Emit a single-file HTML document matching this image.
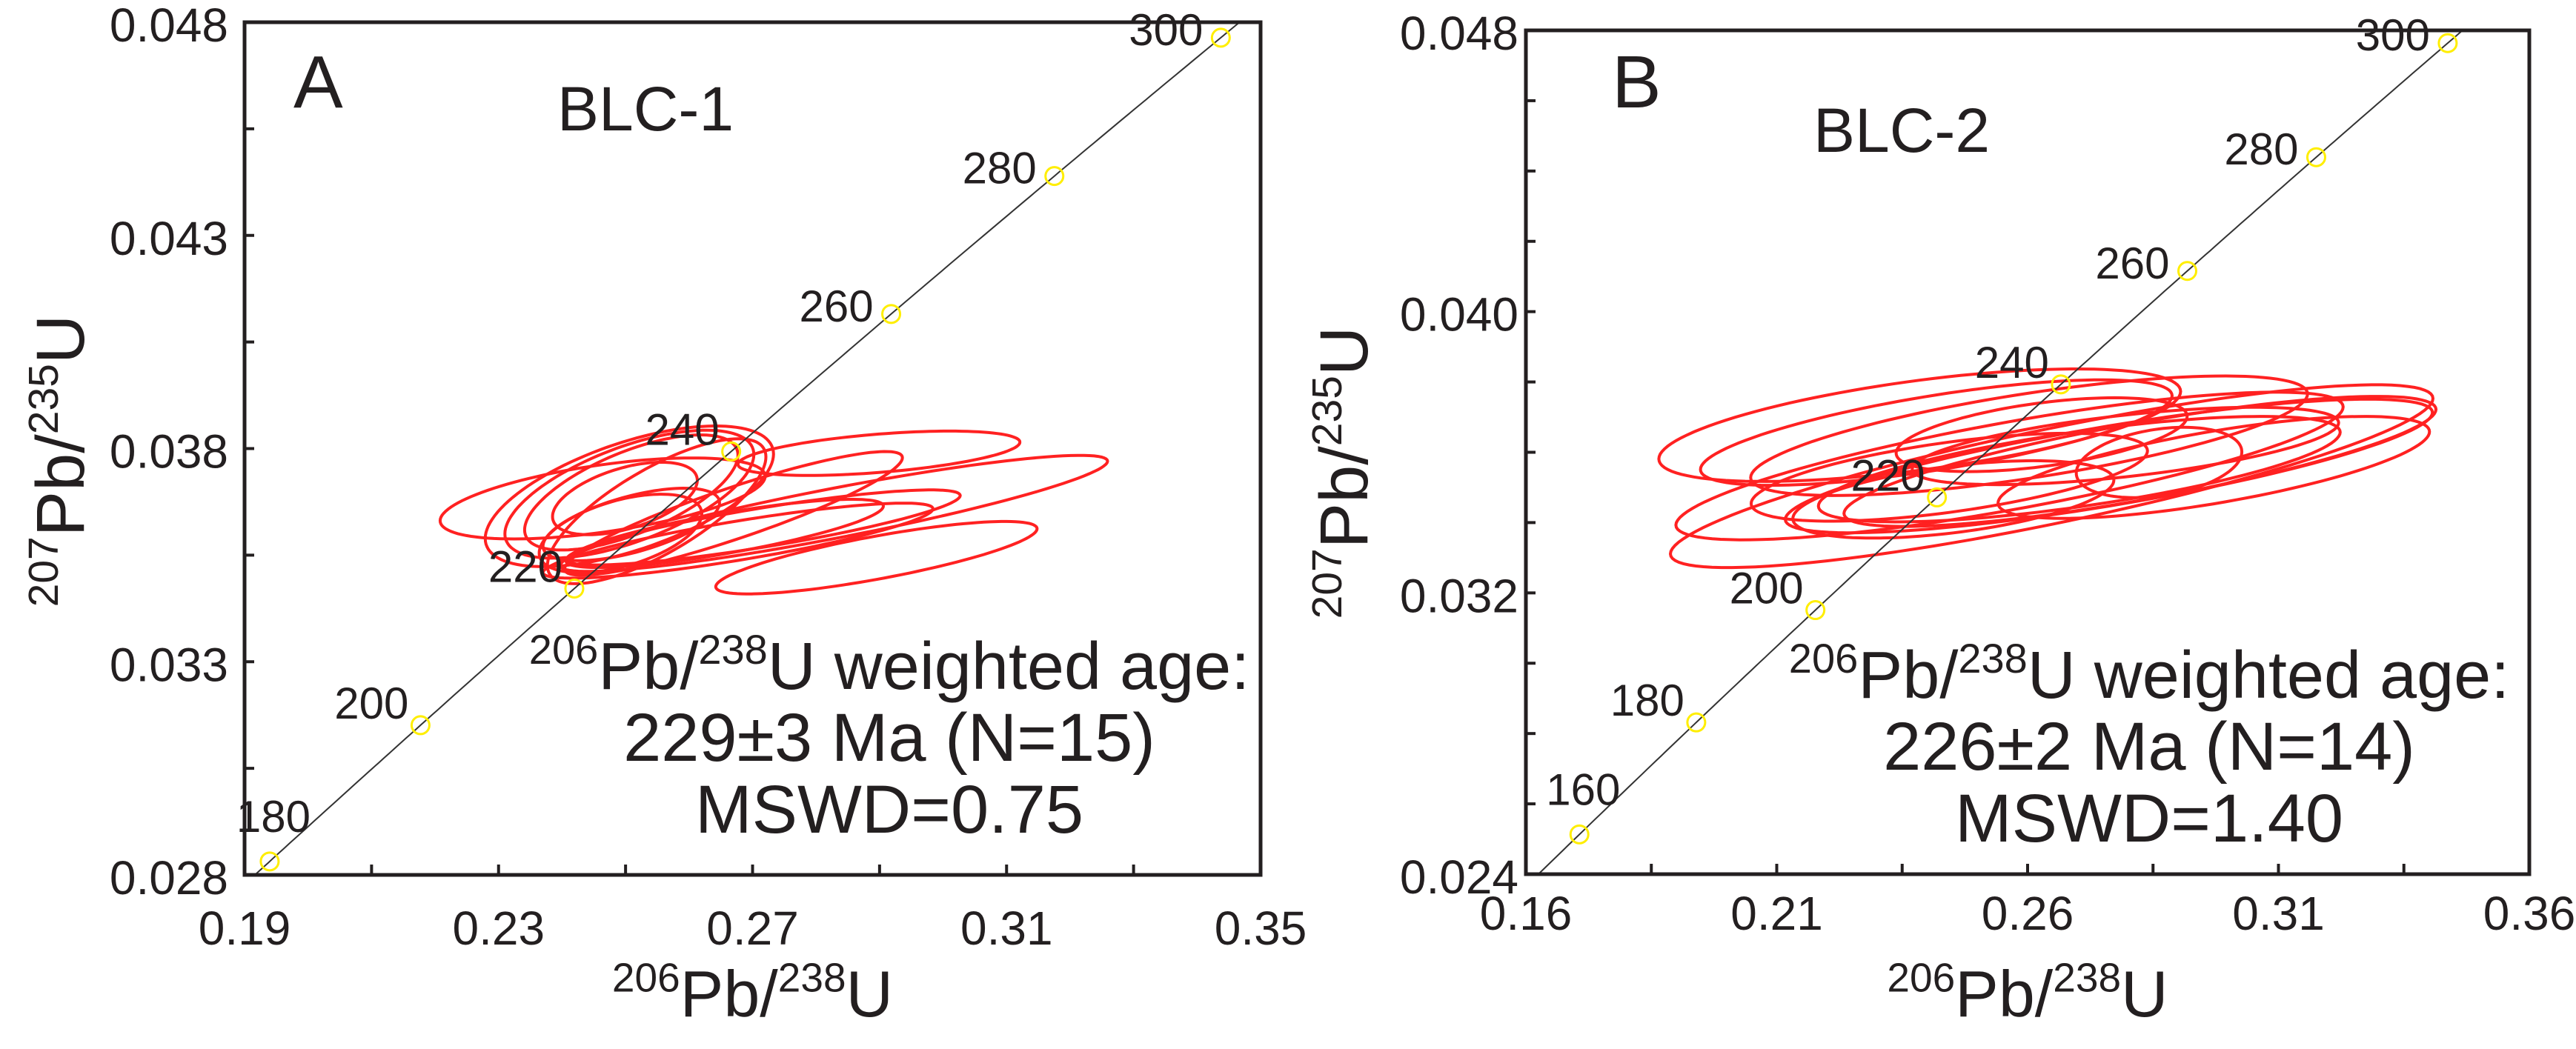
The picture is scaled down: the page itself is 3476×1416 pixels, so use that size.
<!DOCTYPE html>
<html>
<head>
<meta charset="utf-8">
<style>
html,body{margin:0;padding:0;background:#fff;}
svg{display:block;}
text{font-family:"Liberation Sans",Arial,sans-serif;fill:#231f20;}
</style>
</head>
<body>
<svg id="fig" width="3476" height="1416" viewBox="0 0 3476 1416" xmlns="http://www.w3.org/2000/svg">
  <rect x="0" y="0" width="3476" height="1416" fill="#fff"/>
</svg>
<script>
// ---------- Panel A data ----------
const xTicksA = [0.19, 0.23, 0.27, 0.31, 0.35];
const xTickLabelsA = ["0.19", "0.23", "0.27", "0.31", "0.35"];
const yTicksA = [0.028, 0.033, 0.038, 0.043, 0.048];
const yTickLabelsA = ["0.028", "0.033", "0.038", "0.043", "0.048"];
const agesA = [180, 200, 220, 240, 260, 280, 300];
const ellCxA = [0.2828, 0.2899, 0.2895, 0.2717, 0.2677, 0.2670, 0.2464, 0.2506, 0.2506, 0.2509, 0.2499, 0.2509, 0.2492, 0.2656, 0.2549];
const ellCyA = [0.03648, 0.03789, 0.03544, 0.03615, 0.03584, 0.03648, 0.03683, 0.03688, 0.03693, 0.03697, 0.03683, 0.03622, 0.03601, 0.03601, 0.03653];
const ellSxA = [0.0431, 0.0222, 0.0253, 0.0310, 0.0307, 0.0266, 0.0256, 0.0227, 0.0196, 0.0168, 0.0114, 0.0139, 0.0128, 0.0250, 0.0172];
const ellSyA = [0.00136, 0.00052, 0.00085, 0.00088, 0.00088, 0.00145, 0.00095, 0.00165, 0.00150, 0.00135, 0.00085, 0.00085, 0.00092, 0.00080, 0.00170];
const ellRhoA = [0.90, 0.50, 0.80, 0.85, 0.85, 0.90, 0.55, 0.60, 0.62, 0.65, 0.50, 0.60, 0.50, 0.80, 0.75];

// ---------- Panel B data ----------
const xTicksB = [0.16, 0.21, 0.26, 0.31, 0.36];
const xTickLabelsB = ["0.16", "0.21", "0.26", "0.31", "0.36"];
const yTicksB = [0.024, 0.032, 0.040, 0.048];
const yTickLabelsB = ["0.024", "0.032", "0.040", "0.048"];
const agesB = [160, 180, 200, 220, 240, 260, 280, 300];
const ellCxB = [0.2648, 0.2564, 0.2385, 0.2603, 0.2762, 0.2862, 0.2795, 0.2824, 0.2703, 0.2418, 0.2444, 0.2971, 0.2628, 0.2452];
const ellCyB = [0.03532, 0.03561, 0.03677, 0.03647, 0.03561, 0.03571, 0.03618, 0.03574, 0.03552, 0.03656, 0.03529, 0.03557, 0.03650, 0.03466];
const ellSxB = [0.0760, 0.0665, 0.0520, 0.0555, 0.0645, 0.0165, 0.0425, 0.0590, 0.0520, 0.0470, 0.0395, 0.0430, 0.0290, 0.0320];
const ellSyB = [0.00260, 0.00210, 0.00160, 0.00170, 0.00190, 0.00100, 0.00110, 0.00185, 0.00150, 0.00150, 0.00125, 0.00145, 0.00105, 0.00110];
const ellRhoB = [0.85, 0.80, 0.60, 0.70, 0.80, 0.30, 0.60, 0.80, 0.70, 0.70, 0.60, 0.70, 0.50, 0.50];

const L235 = 9.8485e-4, L238 = 1.55125e-4; // per Ma
const NS = "http://www.w3.org/2000/svg";
const svg = document.getElementById('fig');

function mk(tag, attrs, parent) {
  const e = document.createElementNS(NS, tag);
  for (const k in attrs) e.setAttribute(k, attrs[k]);
  (parent || svg).appendChild(e);
  return e;
}

function ratioText(parent, x, y, size, supSize, anchor, parts, transform) {
  const t = mk('text', {x: x, y: y, 'font-size': size, 'text-anchor': anchor}, parent);
  if (transform) t.setAttribute('transform', transform);
  parts.forEach(p => {
    const s = document.createElementNS(NS, 'tspan');
    s.textContent = p[0];
    if (p[1]) { s.setAttribute('font-size', supSize); s.setAttribute('dy', -size * 0.38); }
    else if (p[2]) { s.setAttribute('dy', size * 0.38); }
    t.appendChild(s);
  });
  return t;
}

function drawPanel(c) {
  const g = mk('g', {});
  
  
  const sx = v => c.L + (v - c.x0) / (c.x1 - c.x0) * (c.R - c.L);
  const sy = v => c.B - (v - c.y0) / (c.y1 - c.y0) * (c.B - c.T);

  const clipId = 'clip-' + c.id;
  const defs = mk('defs', {}, g);
  const cp = mk('clipPath', {id: clipId}, defs);
  mk('rect', {x: c.L, y: c.T, width: c.R - c.L, height: c.B - c.T}, cp);

  const eg = mk('g', {'clip-path': 'url(#' + clipId + ')'}, g);
  
  
  for (let i = 0; i < c.cx.length; i++) {
    const r = c.rho[i], q = Math.sqrt(1 - r * r);
    let d = '';
    for (let k = 0; k <= 120; k++) {
      const t = k / 120 * 2 * Math.PI;
      const X = sx(c.cx[i] + c.sxv[i] * Math.cos(t));
      const Y = sy(c.cy[i] + c.syv[i] * (r * Math.cos(t) + q * Math.sin(t)));
      d += (k ? 'L' : 'M') + X.toFixed(1) + ' ' + Y.toFixed(1);
    }
    const p = mk('path', {d: d + 'Z', fill: 'none', stroke: '#ff2121', 'stroke-width': 4}, eg);
    
    
  }

  let d = '';
  for (let k = 0; k <= 200; k++) {
    const t = c.tmin + (c.tmax - c.tmin) * k / 200;
    d += (k ? 'L' : 'M') + sx(Math.exp(L235 * t) - 1).toFixed(1) + ' ' + sy(Math.exp(L238 * t) - 1).toFixed(1);
  }
  const cc = mk('path', {d: d, fill: 'none', stroke: '#333', 'stroke-width': 2, 'clip-path': 'url(#' + clipId + ')'}, g);
  
  

  c.ages.forEach(a => {
    const X = sx(Math.exp(L235 * a) - 1), Y = sy(Math.exp(L238 * a) - 1);
    const m = mk('circle', {cx: X, cy: Y, r: 12, fill: 'none', stroke: '#ffee00', 'stroke-width': 3}, g);
    
    
    let tx = X - 16, ty = Y - 9, anchor = 'end';
    if (a >= 260) { tx = X - 24; ty = Y + 10; }
    if (tx - 105 < c.L) { tx = X - 45; ty = Y - 40; anchor = 'start'; }
    const lb = mk('text', {x: tx, y: ty, 'font-size': 60, 'text-anchor': anchor}, g);
    lb.textContent = String(a);
    
    
  });

  const fr = mk('rect', {x: c.L, y: c.T, width: c.R - c.L, height: c.B - c.T, fill: 'none', stroke: '#231f20', 'stroke-width': 5}, g);
  
  

  for (let v = c.x0; v <= c.x1 + 1e-9; v += c.xMinor) {
    const X = sx(v);
    const tk = mk('line', {x1: X, y1: c.B, x2: X, y2: c.B - 14, stroke: '#231f20', 'stroke-width': 4}, g);
    
    
  }
  c.xt.forEach((v, i) => {
    const t = mk('text', {x: sx(v), y: c.xLabY, 'font-size': 64, 'text-anchor': 'middle'}, g);
    t.textContent = c.xtl[i];
    
    
  });
  for (let v = c.y0; v <= c.y1 + 1e-9; v += c.yMinor) {
    const Y = sy(v);
    const tk = mk('line', {x1: c.L, y1: Y, x2: c.L + 13, y2: Y, stroke: '#231f20', 'stroke-width': 4}, g);
    
    
  }
  c.yt.forEach((v, i) => {
    const t = mk('text', {x: c.yLabR, y: sy(v) + 26, 'font-size': 64, 'text-anchor': 'end'}, g);
    t.textContent = c.ytl[i];
    
    
  });

  const pl = mk('text', {x: c.letterX, y: 145, 'font-size': 100}, g);
  pl.textContent = c.letter;
  
  
  const sn = mk('text', {x: c.nameX, y: c.nameY, 'font-size': 84}, g);
  sn.textContent = c.name;
  
  

  const a1 = ratioText(g, c.annX, c.annY, 90, 56, 'middle', [['206', 1], ['Pb/', 0, 1], ['238', 1], ['U weighted age:', 0, 1]]);
  
  
  const a2 = mk('text', {x: c.annX, y: c.annY + 97, 'font-size': 92, 'text-anchor': 'middle'}, g);
  a2.textContent = c.ageText;
  
  
  const a3 = mk('text', {x: c.annX, y: c.annY + 194, 'font-size': 92, 'text-anchor': 'middle'}, g);
  a3.textContent = c.mswd;
  
  

  const xt = ratioText(g, (c.L + c.R) / 2, 1372, 88, 55, 'middle', [['206', 1], ['Pb/', 0, 1], ['238', 1], ['U', 0, 1]]);
  
  
  const yt = ratioText(g, 0, 0, 92, 57, 'middle', [['207', 1], ['Pb/', 0, 1], ['235', 1], ['U', 0, 1]],
    'translate(' + c.yTitleX + ',' + c.yTitleY + ') rotate(-90)');
  
  
}

drawPanel({id: 'a', L: 330, R: 1701, T: 30, B: 1181, x0: 0.19, x1: 0.35, y0: 0.028, y1: 0.048,
  xMinor: 0.02, yMinor: 0.0025, xt: xTicksA, xtl: xTickLabelsA, yt: yTicksA, ytl: yTickLabelsA,
  xLabY: 1275, yLabR: 308, ages: agesA, tmin: 170, tmax: 310,
  cx: ellCxA, cy: ellCyA, sxv: ellSxA, syv: ellSyA, rho: ellRhoA,
  letter: 'A', letterX: 396, name: 'BLC-1', nameX: 752, nameY: 176,
  annX: 1200, annY: 930, ageText: '229\u00b13 Ma (N=15)', mswd: 'MSWD=0.75',
  yTitleX: 113, yTitleY: 622});

drawPanel({id: 'b', L: 2059, R: 3413, T: 41, B: 1180, x0: 0.16, x1: 0.36, y0: 0.024, y1: 0.048,
  xMinor: 0.025, yMinor: 0.002, xt: xTicksB, xtl: xTickLabelsB, yt: yTicksB, ytl: yTickLabelsB,
  xLabY: 1255, yLabR: 2049, ages: agesB, tmin: 150, tmax: 310,
  cx: ellCxB, cy: ellCyB, sxv: ellSxB, syv: ellSyB, rho: ellRhoB,
  letter: 'B', letterX: 2175, name: 'BLC-2', nameX: 2447, nameY: 205,
  annX: 2900, annY: 942, ageText: '226\u00b12 Ma (N=14)', mswd: 'MSWD=1.40',
  yTitleX: 1845, yTitleY: 638});
</script>
</body>
</html>
